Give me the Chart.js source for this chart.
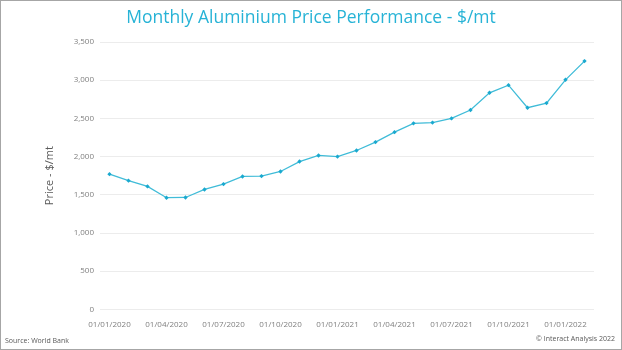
<!DOCTYPE html>
<html>
<head>
<meta charset="utf-8">
<script src="https://cdn.jsdelivr.net/npm/chart.js@4.4.1/dist/chart.umd.min.js"></script>
<style>
  html, body { margin: 0; padding: 0; background: #fff; }
  #wrap { width: 620px; height: 348px; border: 1px solid #a6a6a6; position: relative; }
</style>
</head>
<body>
<div id="wrap"><canvas id="chart" width="620" height="348"></canvas></div>
<script>
// monthly averages, Jan 2020 - Feb 2022
const months = [
  '01/01/2020', '01/02/2020', '01/03/2020', '01/04/2020', '01/05/2020', '01/06/2020',
  '01/07/2020', '01/08/2020', '01/09/2020', '01/10/2020', '01/11/2020', '01/12/2020',
  '01/01/2021', '01/02/2021', '01/03/2021', '01/04/2021', '01/05/2021', '01/06/2021',
  '01/07/2021', '01/08/2021', '01/09/2021', '01/10/2021', '01/11/2021', '01/12/2021',
  '01/01/2022', '01/02/2022'
];
const prices = [
  1770, 1685, 1610, 1462, 1465, 1570,
  1640, 1740, 1745, 1805, 1935, 2015,
  2000, 2080, 2190, 2320, 2435, 2445,
  2500, 2610, 2835, 2935, 2640, 2700,
  3005, 3250
];
const yTicks = [0, 500, 1000, 1500, 2000, 2500, 3000, 3500];

const FONT = '"Open Sans", "Noto Sans", sans-serif';

// footnotes under the plot
const footnotes = {
  id: 'footnotes',
  afterDraw(chart) {
    const c = chart.ctx;
    c.save();
    c.font = '7px ' + FONT;
    c.fillStyle = '#595959';
    c.textBaseline = 'middle';
    c.textAlign = 'left';
    c.fillText('Source: World Bank', 4, 340);
    c.textAlign = 'right';
    c.fillText('\u00A9 Interact Analysis 2022', 614, 338);
    c.restore();
  }
};

new Chart(document.getElementById('chart'), {
  type: 'line',
  data: {
    labels: months,
    datasets: [{
      data: prices,
      borderColor: '#40bcd8',
      borderWidth: 1.3,
      pointStyle: 'rectRot',
      pointRadius: 2.2,
      pointBackgroundColor: '#1aa9cf',
      pointBorderColor: '#1aa9cf',
      pointBorderWidth: 0,
      tension: 0
    }]
  },
  options: {
    responsive: false,
    animation: false,
    layout: { padding: { top: 0, right: 0, bottom: 16, left: 0 } },
    plugins: {
      legend: { display: false },
      tooltip: { enabled: false },
      title: {
        display: true,
        text: 'Monthly Aluminium Price Performance - $/mt',
        color: '#27b3d6',
        font: { family: FONT, size: 17.5, weight: 'normal' },
        padding: { top: 7, bottom: 13 }
      }
    },
    scales: {
      x: {
        offset: true,
        grid: { display: false },
        border: { display: false },
        ticks: {
          color: '#808080',
          font: { family: FONT, size: 8 },
          maxRotation: 0,
          autoSkip: false,
          padding: 3,
          callback: function(v, i) { return i % 3 === 0 ? months[i] : ''; }
        }
      },
      y: {
        min: 0,
        max: 3500,
        afterBuildTicks: function(axis) { axis.ticks = yTicks.map(v => ({ value: v })); },
        afterFit: function(axis) { axis.width = 99; },
        grid: { color: '#ececec', drawTicks: false },
        border: { display: false },
        ticks: {
          color: '#808080',
          font: { family: FONT, size: 8 },
          padding: 6,
          callback: function(v) { return v.toLocaleString('en-US'); }
        },
        title: {
          display: true,
          text: 'Price - $/mt',
          color: '#595959',
          font: { family: FONT, size: 11 },
          padding: { top: 42, bottom: 0 }
        }
      },
      // empty right-hand spacer so the title stays centred on the page
      yRight: {
        position: 'right',
        grid: { display: false },
        border: { display: false },
        ticks: { display: false },
        afterFit: function(axis) { axis.width = 27; }
      }
    }
  },
  plugins: [footnotes]
});
</script>
</body>
</html>
